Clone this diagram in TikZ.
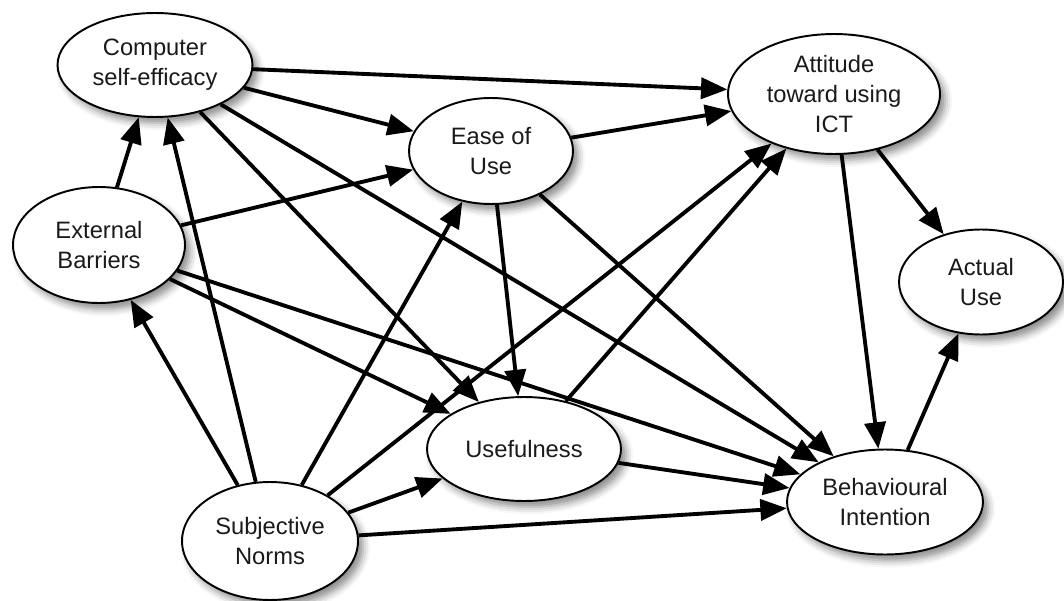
\documentclass[tikz,border=0pt]{standalone}
\usepackage{fontspec}
\setmainfont{Liberation Sans}
\usetikzlibrary{arrows.meta, shapes.geometric, shadows.blur}
\definecolor{textDark}{HTML}{1A1A1A}

\begin{document}
\begin{tikzpicture}[
    x=0.02cm, y=-0.02cm,
    construct/.style={ellipse, draw=black, line width=1.1pt, fill=white,
                 inner sep=0pt, align=center,
                 font=\fontsize{13.5}{17}\selectfont\color{textDark},
                 blur shadow={shadow xshift=3pt, shadow yshift=-3.5pt,
                   shadow blur radius=4pt, shadow opacity=45}},
    link/.style={line width=2.2pt, -{Triangle[length=15pt, width=12pt]}},
  ]
    \useasboundingbox (0,0) rectangle (1064,601);

    % Constructs
    \node[construct, minimum width=3.9cm, minimum height=2.08cm]
      (cse) at (155,65) {Computer\\self-efficacy};
    \node[construct, minimum width=3.44cm, minimum height=2.32cm]
      (ext) at (99,245) {External\\Barriers};
    \node[construct, minimum width=3.52cm, minimum height=2.36cm]
      (sub) at (270,541) {Subjective\\Norms};
    \node[construct, minimum width=3.28cm, minimum height=2.12cm]
      (ease) at (491,151) {Ease of\\Use};
    \node[construct, minimum width=3.88cm, minimum height=2.08cm]
      (use) at (524,449) {Usefulness};
    \node[construct, minimum width=4.24cm, minimum height=2.4cm]
      (att) at (834,94) {Attitude\\toward using\\ICT};
    \node[construct, minimum width=3.28cm, minimum height=2.1cm]
      (act) at (981,282) {Actual\\Use};
    \node[construct, minimum width=3.92cm, minimum height=2.1cm]
      (beh) at (885,502) {Behavioural\\Intention};

    % From computer self-efficacy
    \draw[link] (cse) -- (att);
    \draw[link] (cse) -- (ease);
    \draw[link] (cse) -- (use);
    \draw[link] (cse) -- (beh);

    % From external barriers
    \draw[link] (ext) -- (cse);
    \draw[link] (ext) -- (ease);
    \draw[link] (ext) -- (use);
    \draw[link] (ext) -- (beh);

    % From subjective norms
    \draw[link] (sub) -- (ext);
    \draw[link] (sub) -- (cse);
    \draw[link] (sub) -- (ease);
    \draw[link] (sub) -- (att);
    \draw[link] (sub) -- (use);
    \draw[link] (sub) -- (beh);

    % Ease of use, usefulness
    \draw[link] (ease) -- (att);
    \draw[link] (ease) -- (use);
    \draw[link] (ease) -- (beh);
    \draw[link] (use) -- (att);
    \draw[link] (use) -- (beh);

    % Attitude and intention
    \draw[link] (att) -- (act);
    \draw[link] (att) -- (beh);
    \draw[link] (beh) -- (act);
  \end{tikzpicture}
\end{document}
